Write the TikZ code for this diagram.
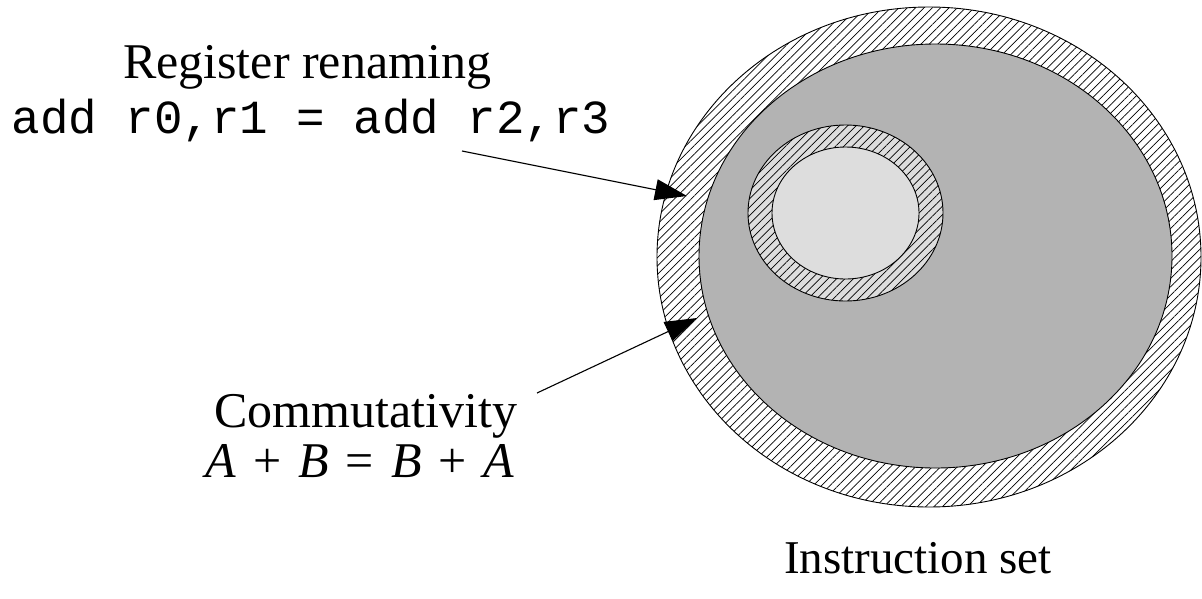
\documentclass[tikz,border=0pt]{standalone}
\usepackage{fontspec}
\setmainfont{Liberation Serif}
\setmonofont{Liberation Mono}
\usetikzlibrary{shapes.geometric,patterns.meta,arrows.meta}
\definecolor{maingray}{HTML}{B3B3B3}
\definecolor{lightgray2}{HTML}{DDDDDD}
\newcommand{\opgap}{\hspace{17pt}}
\tikzset{
  setshape/.style={ellipse, draw=black, line width=0.9pt, inner sep=0pt, outer sep=0pt},
  hatched/.style={pattern={Lines[angle=45,distance=5.9pt,line width=0.7pt]}, pattern color=black},
  lbl/.style={anchor=base, inner sep=0pt, font=\fontsize{50}{54}\selectfont},
  code/.style={anchor=base, inner sep=0pt, font=\ttfamily\fontsize{47.5}{50}\selectfont},
  pointer/.style={line width=1.1pt, -{Triangle[length=32pt,width=21pt]}}
}
\begin{document}
\begin{tikzpicture}[x=1pt,y=-1pt]
\useasboundingbox (0,0) rectangle (1202,598);
% sets
\node[setshape, hatched, preaction={fill=white}, minimum width=544pt, minimum height=500pt] (outer) at (929,257) {};
\node[setshape, fill=maingray, minimum width=473pt, minimum height=424pt] (main) at (935.5,256) {};
\node[setshape, hatched, preaction={fill=lightgray2}, minimum width=195pt, minimum height=176pt] (ring) at (845.5,213) {};
\node[setshape, fill=lightgray2, minimum width=147pt, minimum height=132pt] (core) at (845.5,213) {};
% labels
\node[lbl] (regname) at (307,78) {Register renaming};
\node[code] (regcode) at (311,133) {add r0,r1 = add r2,r3};
\node[lbl] (comname) at (366,427) {Commutativity};
\node[lbl] (comeq) at (360,477) {\textit{A}\opgap+\opgap\textit{B}\opgap=\opgap\textit{B}\opgap+\opgap\textit{A}};
\node[lbl, font=\fontsize{47}{50}\selectfont] (iset) at (918,573) {Instruction set};
% pointers
\coordinate (r0) at (462,151);
\coordinate (r1) at (687,196);
\coordinate (c0) at (537,393);
\coordinate (c1) at (697,318);
\draw[pointer] (r0) -- (r1);
\draw[pointer] (c0) -- (c1);
\end{tikzpicture}
\end{document}
